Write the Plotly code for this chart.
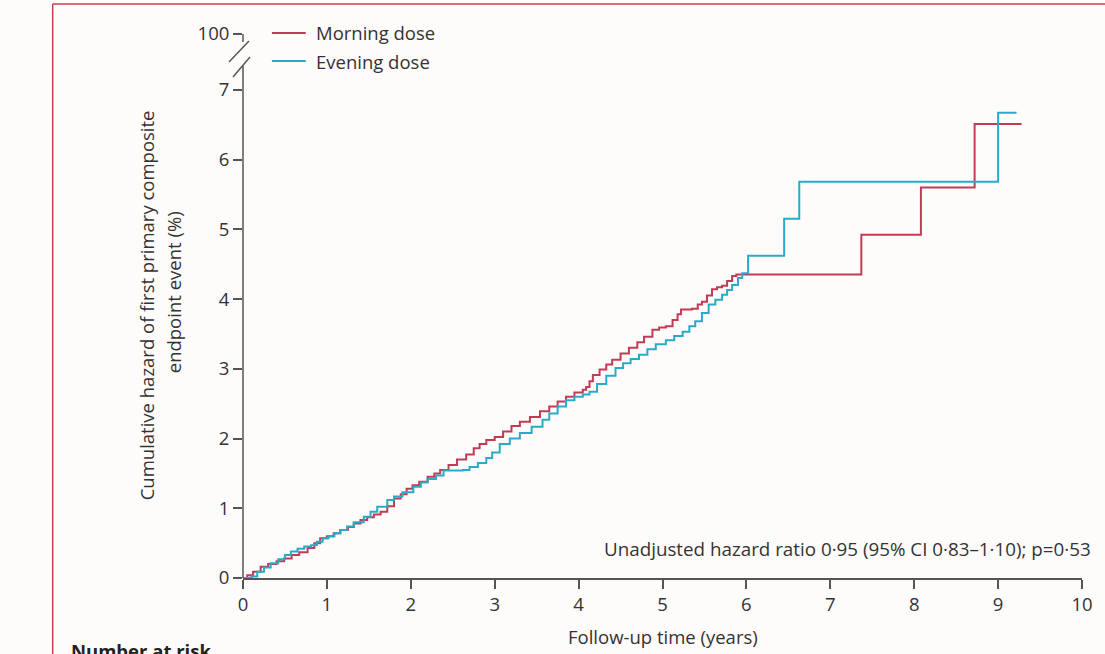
import plotly.graph_objects as go

# ---- data ----
morning_t = [0.00, 0.05, 0.12, 0.21, 0.30, 0.40, 0.49, 0.58, 0.67, 0.77, 0.85, 0.92, 1.00, 1.08, 1.16,
             1.25, 1.32, 1.40, 1.48, 1.56, 1.64, 1.72, 1.80, 1.88, 1.95, 2.02, 2.10, 2.20, 2.28, 2.35,
             2.45, 2.55, 2.66, 2.75, 2.82, 2.90, 3.00, 3.10, 3.20, 3.30, 3.42, 3.54, 3.65, 3.75, 3.85,
             3.95, 4.05, 4.09, 4.13, 4.17, 4.25, 4.33, 4.40, 4.50, 4.60, 4.70, 4.78, 4.88, 4.96, 5.04,
             5.12, 5.18, 5.22, 5.35, 5.42, 5.47, 5.53, 5.59, 5.65, 5.71, 5.77, 5.83, 5.88, 7.37, 8.08,
             8.72, 9.28]
morning_h = [0.00, 0.04, 0.09, 0.16, 0.20, 0.24, 0.28, 0.33, 0.37, 0.43, 0.50, 0.57, 0.60, 0.64, 0.69,
             0.73, 0.78, 0.83, 0.87, 0.91, 0.95, 1.03, 1.14, 1.20, 1.28, 1.33, 1.38, 1.45, 1.50, 1.55,
             1.62, 1.70, 1.77, 1.86, 1.92, 1.98, 2.02, 2.10, 2.18, 2.24, 2.31, 2.39, 2.46, 2.53, 2.60,
             2.66, 2.70, 2.74, 2.82, 2.91, 2.99, 3.06, 3.13, 3.22, 3.30, 3.38, 3.46, 3.56, 3.59, 3.61,
             3.70, 3.78, 3.85, 3.86, 3.92, 3.96, 4.05, 4.14, 4.17, 4.19, 4.26, 4.33, 4.35, 4.92, 5.60,
             6.51, 6.51]

evening_t = [0.00, 0.10, 0.17, 0.25, 0.33, 0.42, 0.50, 0.57, 0.65, 0.73, 0.81, 0.88, 0.95, 1.02, 1.09,
             1.16, 1.24, 1.32, 1.44, 1.52, 1.60, 1.72, 1.80, 1.90, 2.03, 2.12, 2.20, 2.30, 2.39, 2.62,
             2.70, 2.80, 2.90, 2.97, 3.06, 3.18, 3.30, 3.44, 3.57, 3.65, 3.75, 3.85, 3.95, 4.05, 4.13,
             4.22, 4.33, 4.44, 4.53, 4.62, 4.72, 4.82, 4.92, 5.04, 5.14, 5.24, 5.32, 5.39, 5.47, 5.55,
             5.63, 5.71, 5.77, 5.83, 5.90, 5.95, 6.02, 6.45, 6.63, 9.00, 9.22]
evening_h = [0.00, 0.02, 0.09, 0.15, 0.21, 0.27, 0.33, 0.38, 0.42, 0.45, 0.47, 0.52, 0.57, 0.60, 0.64,
             0.69, 0.74, 0.80, 0.88, 0.95, 1.02, 1.12, 1.17, 1.23, 1.31, 1.37, 1.42, 1.47, 1.54, 1.55,
             1.59, 1.65, 1.72, 1.80, 1.92, 2.00, 2.08, 2.17, 2.27, 2.36, 2.46, 2.55, 2.60, 2.63, 2.67,
             2.78, 2.90, 3.01, 3.08, 3.14, 3.20, 3.28, 3.35, 3.41, 3.47, 3.53, 3.61, 3.68, 3.80, 3.92,
             3.99, 4.06, 4.13, 4.20, 4.30, 4.37, 4.62, 5.15, 5.68, 6.67, 6.67]

x_ticks = [0, 1, 2, 3, 4, 5, 6, 7, 8, 9, 10]
y_ticks = [0, 1, 2, 3, 4, 5, 6, 7, 7.8]
y_ticklabels = ["0", "1", "2", "3", "4", "5", "6", "7", "100"]
series_names = ["Morning dose", "Evening dose"]
hr_text = "Unadjusted hazard ratio 0·95 (95% CI 0·83–1·10); p=0·53"

RED = "#c23b55"
BLUE = "#2aaac9"
AXIS = "#555555"
TEXT = "#333333"
FONT = "Open Sans"
FS = 18.5

W, H = 1105, 654
L, R, T, B = 243, 20, 34, 76
PW = W - L - R
PH = H - T - B


def px(x):
    return (x - L) / PW


def py(y):
    return (H - B - y) / PH


fig = go.Figure()
fig.add_trace(go.Scatter(x=morning_t, y=morning_h, mode="lines", line=dict(color=RED, width=2, shape="hv"),
                         name=series_names[0], showlegend=False, hoverinfo="skip"))
fig.add_trace(go.Scatter(x=evening_t, y=evening_h, mode="lines", line=dict(color=BLUE, width=2, shape="hv"),
                         name=series_names[1], showlegend=False, hoverinfo="skip"))

shapes = []
# y axis with break
shapes.append(dict(type="line", xref="paper", yref="paper", x0=0, x1=0, y0=0, y1=py(66),
                   line=dict(color=AXIS, width=1.5)))
shapes.append(dict(type="line", xref="paper", yref="paper", x0=0, x1=0, y0=py(42), y1=1,
                   line=dict(color=AXIS, width=1.5)))
shapes.append(dict(type="line", xref="paper", yref="paper", x0=px(229), x1=px(249), y0=py(62), y1=py(41),
                   line=dict(color=AXIS, width=1.5)))
shapes.append(dict(type="line", xref="paper", yref="paper", x0=px(233), x1=px(250), y0=py(77), y1=py(57),
                   line=dict(color=AXIS, width=1.5)))
# legend samples
shapes.append(dict(type="line", xref="paper", yref="paper", x0=px(272), x1=px(306), y0=py(33), y1=py(33),
                   line=dict(color=RED, width=2)))
shapes.append(dict(type="line", xref="paper", yref="paper", x0=px(272), x1=px(306), y0=py(61), y1=py(61),
                   line=dict(color=BLUE, width=2)))
# red frame (left and top edges)
shapes.append(dict(type="line", xref="paper", yref="paper", x0=px(52), x1=px(52), y0=py(4), y1=py(700),
                   line=dict(color="#cc3a52", width=1.5)))
shapes.append(dict(type="line", xref="paper", yref="paper", x0=px(52), x1=px(1150), y0=py(4), y1=py(4),
                   line=dict(color="#cc3a52", width=1.5)))

annotations = [
    dict(text=series_names[0], x=px(314), y=py(33), xref="paper", yref="paper", xanchor="left",
         yanchor="middle", showarrow=False, font=dict(size=FS, color=TEXT, family=FONT)),
    dict(text=series_names[1], x=px(314), y=py(61), xref="paper", yref="paper", xanchor="left",
         yanchor="middle", showarrow=False, font=dict(size=FS, color=TEXT, family=FONT)),
    dict(text=hr_text, x=px(1096), y=py(549), xref="paper", yref="paper", xanchor="right",
         yanchor="middle", showarrow=False, font=dict(size=18.8, color=TEXT, family=FONT)),
    dict(text="Follow-up time (years)", x=px(664), y=py(636), xref="paper", yref="paper", xanchor="center",
         yanchor="middle", showarrow=False, font=dict(size=FS, color=TEXT, family=FONT)),
    dict(text="Cumulative hazard of first primary composite", x=px(146), y=py(305), xref="paper",
         yref="paper", xanchor="center", yanchor="middle", textangle=-90, showarrow=False,
         font=dict(size=FS, color=TEXT, family=FONT)),
    dict(text="endpoint event (%)", x=px(173), y=py(292), xref="paper",
         yref="paper", xanchor="center", yanchor="middle", textangle=-90, showarrow=False,
         font=dict(size=FS, color=TEXT, family=FONT)),
    dict(text="<b>Number at risk</b>", x=px(68), y=py(636), xref="paper", yref="paper", xanchor="left",
         yanchor="top", showarrow=False, font=dict(size=FS, color="#222222", family=FONT)),
]

fig.update_layout(
    width=W, height=H,
    margin=dict(l=L, r=R, t=T, b=B, pad=0),
    paper_bgcolor="#fdfcfb", plot_bgcolor="#fdfcfb",
    shapes=shapes, annotations=annotations,
    xaxis=dict(range=[0, 10], tickvals=x_ticks, showgrid=False, zeroline=False, showline=True,
               linecolor=AXIS, linewidth=1.5, ticks="outside", ticklen=9, tickwidth=1.5, tickcolor=AXIS,
               tickfont=dict(size=FS, color=TEXT, family=FONT), fixedrange=True),
    yaxis=dict(range=[0, 7.8], tickvals=y_ticks, ticktext=y_ticklabels, showgrid=False, zeroline=False,
               showline=False, ticks="outside", ticklen=9, tickwidth=1.5, tickcolor=AXIS,
               tickfont=dict(size=FS, color=TEXT, family=FONT), fixedrange=True),
    showlegend=False,
)

fig.write_html("out.html", config={"displayModeBar": False},
               post_script="document.body.style.margin='0';document.body.style.overflow='hidden';")
